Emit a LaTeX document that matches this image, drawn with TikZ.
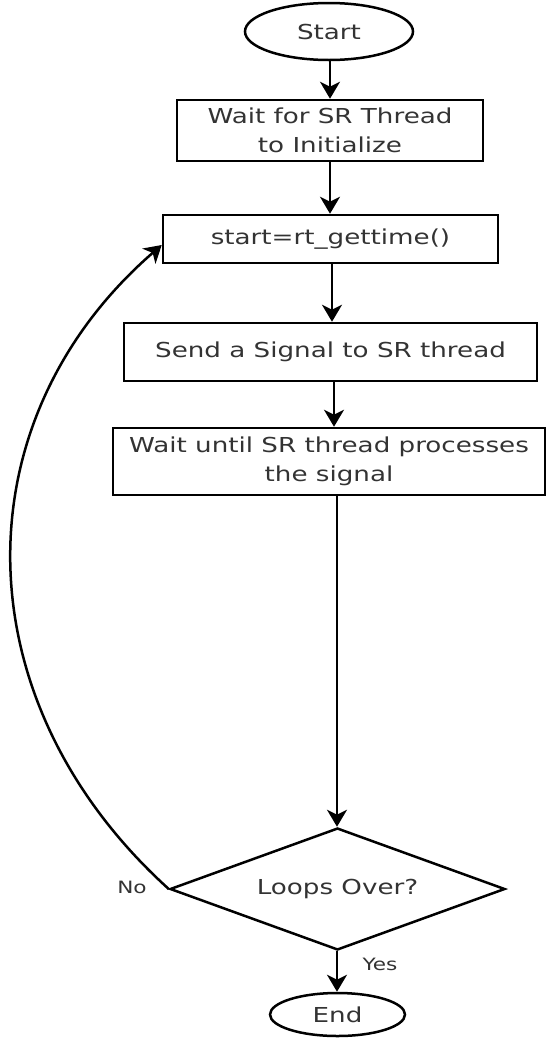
\documentclass[tikz,border=0pt]{standalone}
\usepackage{fontspec}
\setmainfont{DejaVu Sans}[FakeStretch=1.27]
\usetikzlibrary{shapes.geometric,arrows.meta}
\tikzset{
  base/.style={draw=black, line width=2.5pt, text=black!80, inner sep=0pt,
    font=\fontsize{20.6}{29}\selectfont, align=center},
  procbox/.style={base, rectangle},
  term/.style={base, ellipse},
  decide/.style={base, diamond, aspect=2.75},
  lbl/.style={text=black!80, inner sep=0pt, font=\fontsize{17}{19}\selectfont},
  arr/.style={line width=2.5pt, -{Stealth[length=17pt,width=20pt,inset=5pt]}}
}
\begin{document}
\begin{tikzpicture}[x=1pt,y=-1pt]
\useasboundingbox (0,0) rectangle (547,1039);
\node[term, minimum width=168pt, minimum height=57pt] (start) at (329,31.5) {Start};
\node[procbox, minimum width=306pt, minimum height=61pt] (b1) at (330,130.5) {Wait for SR Thread\\to Initialize};
\node[procbox, minimum width=335pt, minimum height=48pt] (b2) at (330.5,239) {start=rt\_gettime()};
\node[procbox, minimum width=413pt, minimum height=58pt] (b3) at (330.5,352) {Send a Signal to SR thread};
\node[procbox, minimum width=432pt, minimum height=67pt] (b4) at (329,461.5) {Wait until SR thread processes\\the signal};
\node[decide, minimum width=335pt, minimum height=122pt] (dia) at (337.5,889) {Loops Over?};
\node[term, minimum width=135pt, minimum height=43pt] (end) at (337.5,1014.5) {End};
\node[lbl] (no) at (132,887) {No};
\node[lbl] (yes) at (380,964) {Yes};
\draw[arr] (start.south -| 330,0) -- (b1.north -| 330,0);
\draw[arr] (b1.south -| 330,0) -- (b2.north -| 330,0);
\draw[arr] (b2.south -| 332,0) -- (b3.north -| 332,0);
\draw[arr] (b3.south -| 334,0) -- (b4.north -| 334,0);
\draw[arr] (b4.south -| 337,0) -- (dia.north -| 337,0);
\draw[arr] (dia.south -| 337,0) -- (end.north -| 337,0);
\draw[arr] (dia.west) .. controls (-40,700) and (-40,420) .. ([yshift=-6pt]b2.west);
\end{tikzpicture}
\end{document}
